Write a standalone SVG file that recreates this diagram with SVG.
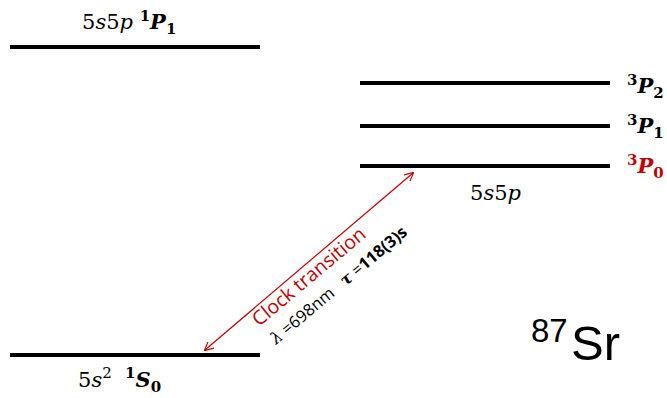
<svg xmlns="http://www.w3.org/2000/svg" width="667" height="398" viewBox="0 0 667 398">
<style>
.lvl{stroke:#000;stroke-width:4;fill:none}
.m{font-family:"DejaVu Serif","Liberation Serif",serif;font-size:21px;fill:#000}
.it{font-style:italic}
.b{font-weight:bold;font-style:italic}
.sup{font-size:15px}
.cal{font-family:"Open Sans","Liberation Sans",sans-serif}
</style>
<defs>
<marker id="ah" viewBox="0 0 10 10" refX="9" refY="5" markerWidth="9" markerHeight="9" markerUnits="userSpaceOnUse" orient="auto-start-reverse">
<path d="M0,0 L10,5 L0,10" fill="none" stroke="#c00000" stroke-width="1.3"/>
</marker>
</defs>
<g id="level-1P1">
<line class="lvl" x1="10" y1="47" x2="260" y2="47"/>
<text class="m" x="82" y="29">5<tspan class="it">s</tspan>5<tspan class="it">p</tspan> <tspan class="sup" dy="-8" font-weight="bold">1</tspan><tspan class="b" dy="8">P</tspan><tspan class="sup" dy="5" font-weight="bold">1</tspan></text>
</g>
<g id="level-3P2">
<line class="lvl" x1="360" y1="83" x2="610" y2="83"/>
<text class="m" x="627" y="93"><tspan class="sup" dy="-8" font-weight="bold">3</tspan><tspan class="b" dy="8">P</tspan><tspan class="sup" dy="5" font-weight="bold">2</tspan></text>
</g>
<g id="level-3P1">
<line class="lvl" x1="360" y1="126" x2="610" y2="126"/>
<text class="m" x="627" y="133"><tspan class="sup" dy="-8" font-weight="bold">3</tspan><tspan class="b" dy="8">P</tspan><tspan class="sup" dy="5" font-weight="bold">1</tspan></text>
</g>
<g id="level-3P0">
<line class="lvl" x1="360" y1="166" x2="610" y2="166"/>
<text class="m" x="627" y="173" style="fill:#c00000"><tspan class="sup" dy="-8" font-weight="bold">3</tspan><tspan class="b" dy="8">P</tspan><tspan class="sup" dy="5" font-weight="bold">0</tspan></text>
<text class="m" x="470" y="200">5<tspan class="it">s</tspan>5<tspan class="it">p</tspan></text>
</g>
<g id="level-1S0">
<line class="lvl" x1="10" y1="355" x2="260" y2="355"/>
<text class="m" x="78" y="387" xml:space="preserve">5<tspan class="it">s</tspan><tspan class="sup" dy="-9">2</tspan><tspan dy="9">  </tspan><tspan class="sup" dy="-9" font-weight="bold">1</tspan><tspan class="b" dy="9">S</tspan><tspan class="sup" dy="5" font-weight="bold">0</tspan></text>
</g>
<g id="connectors">
<line x1="205" y1="350" x2="413" y2="173" stroke="#c00000" stroke-width="1.2" marker-start="url(#ah)" marker-end="url(#ah)"/>
</g>
<g id="labels">
<text class="cal" font-size="19.5" fill="#c00000" transform="translate(259,327) rotate(-40)">Clock transition</text>
<text class="cal" font-size="16.5" fill="#000" transform="translate(276,345) rotate(-40)" xml:space="preserve"><tspan font-family="DejaVu Serif" font-style="italic">λ</tspan> =698nm   <tspan font-family="DejaVu Serif" font-weight="bold" font-style="italic">τ</tspan> =<tspan font-weight="bold">118(3)s</tspan></text>
<text font-family="Liberation Sans, sans-serif" x="531" y="342" font-size="33">87</text>
<text font-family="Liberation Sans, sans-serif" x="571" y="360" font-size="49">Sr</text>
</g>
</svg>
